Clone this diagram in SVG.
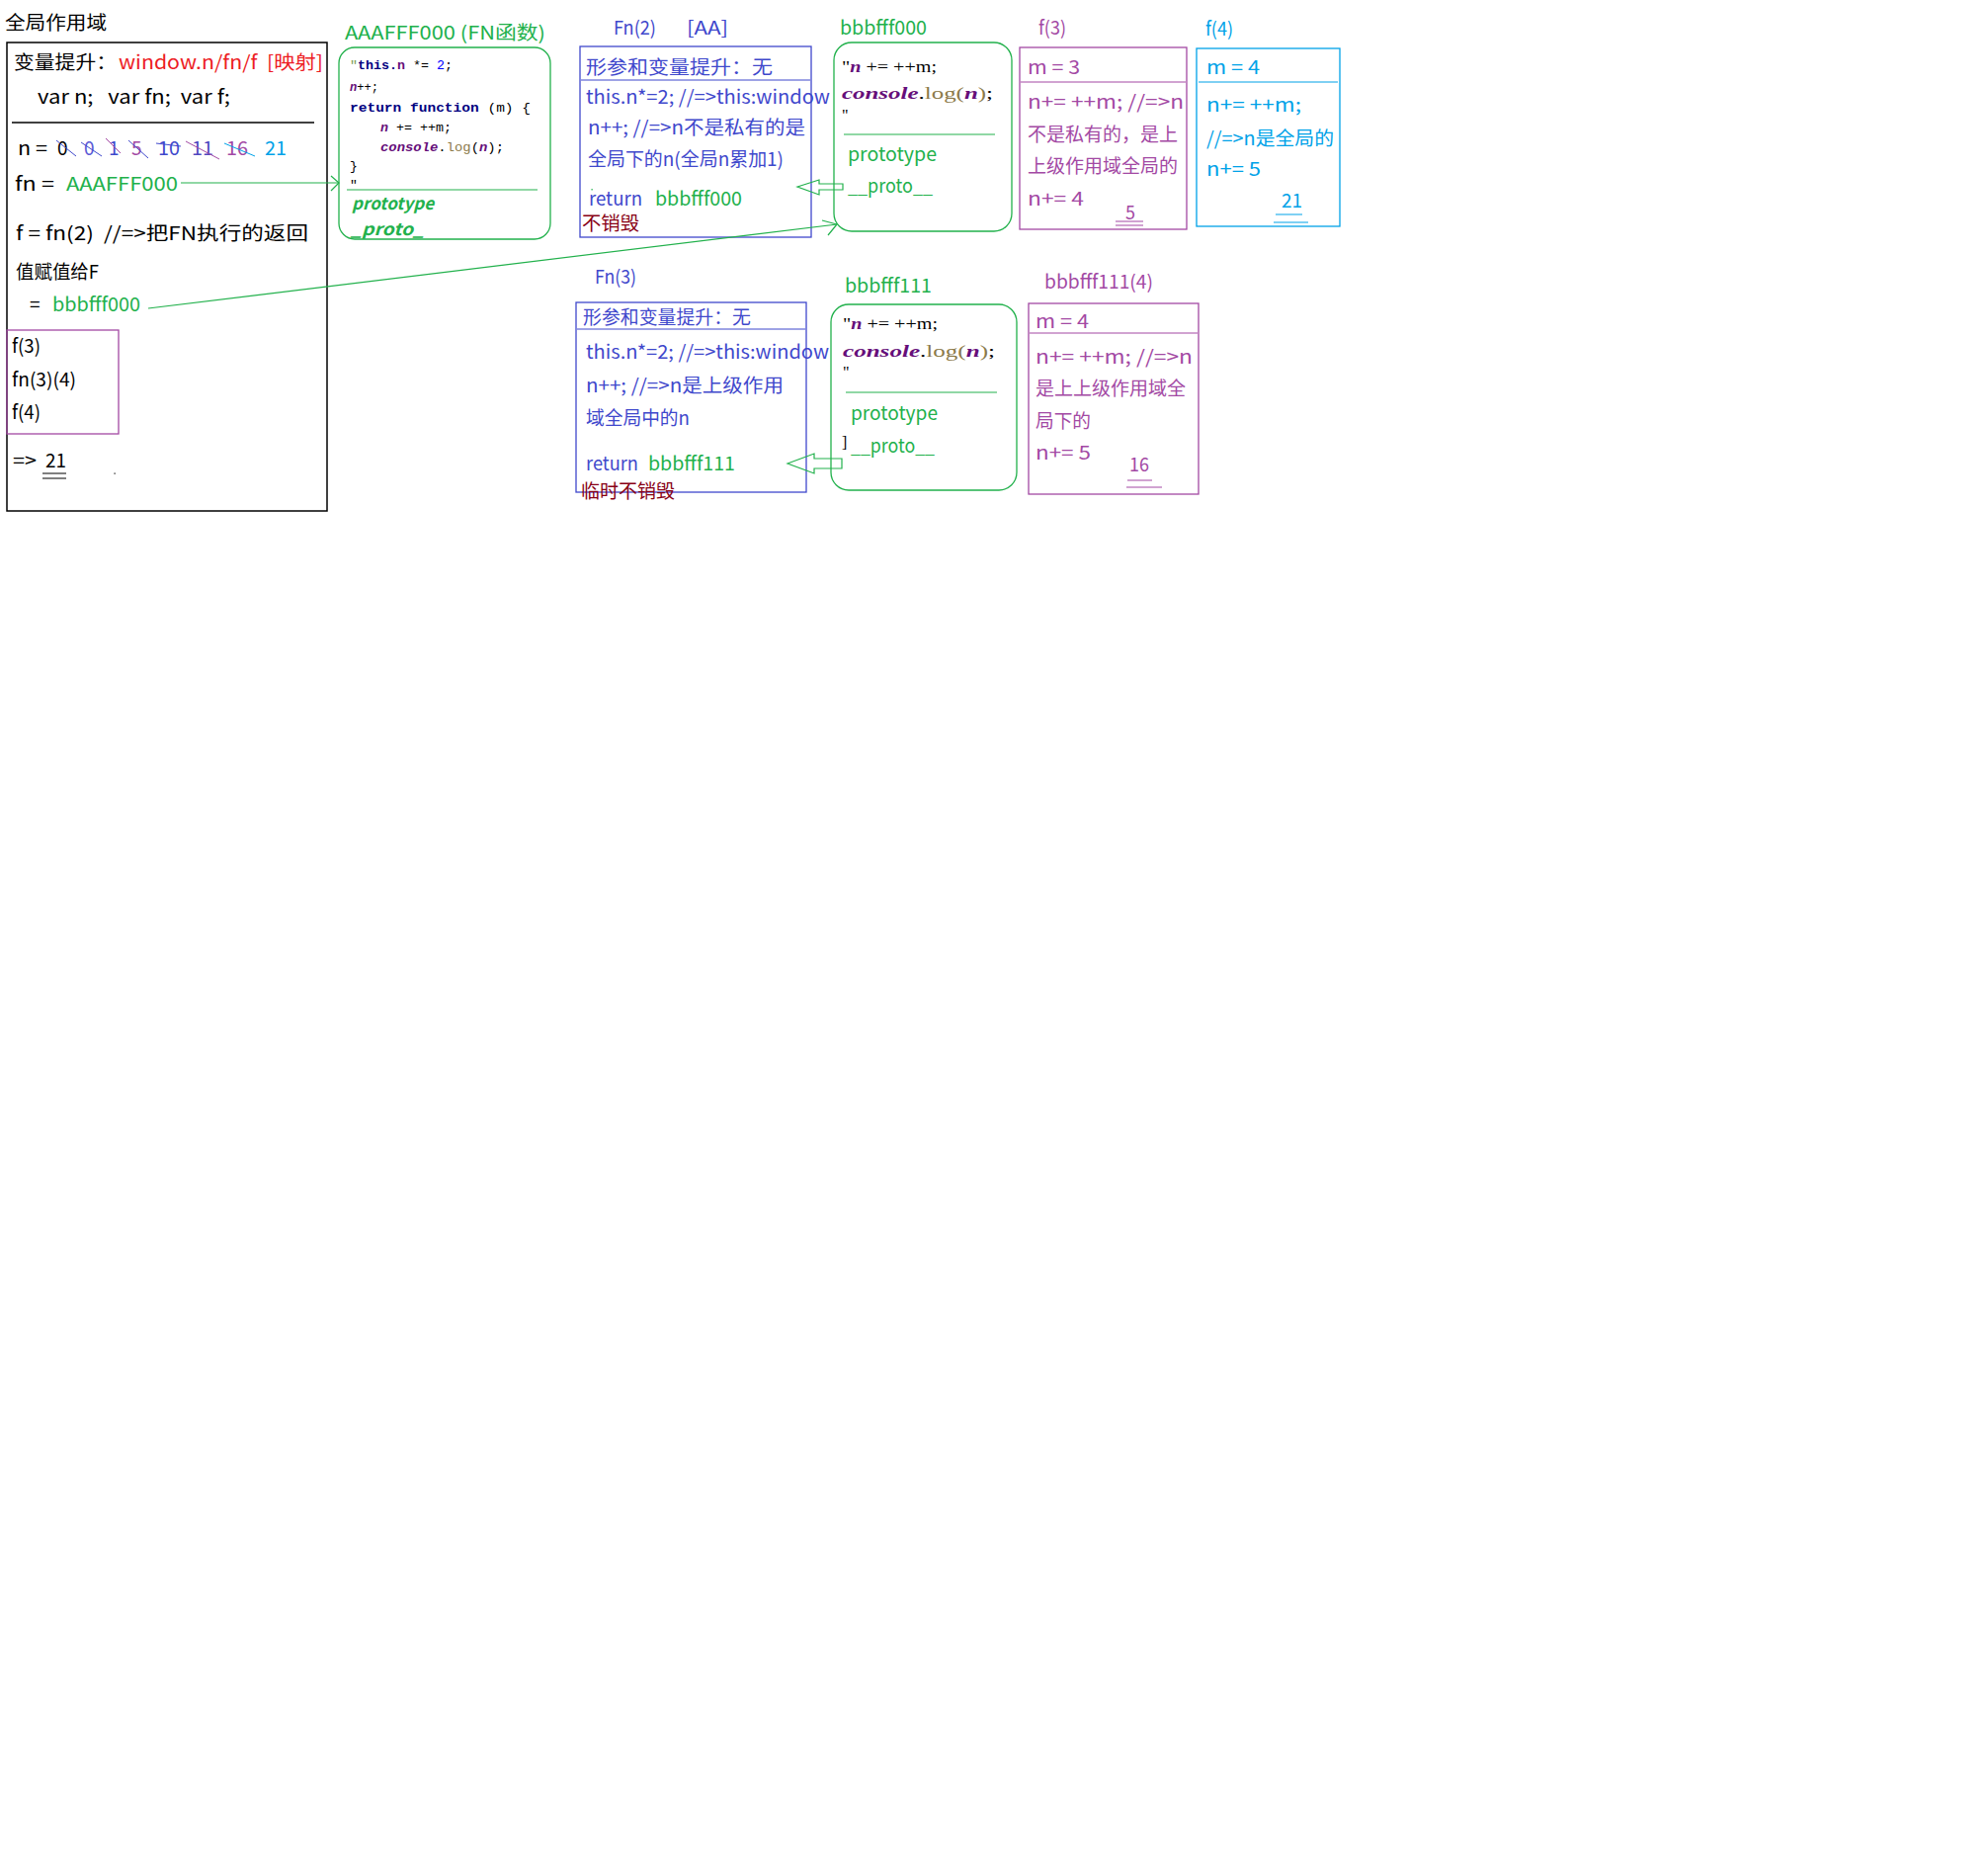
<svg xmlns="http://www.w3.org/2000/svg" width="2012" height="1880" viewBox="0 0 2012 1880">
<style>
.t{font-family:"Noto Sans CJK SC","Noto Sans",sans-serif;font-size:19px;white-space:pre;}
.code{font-family:"Liberation Mono","DejaVu Sans Mono",monospace;font-size:13px;white-space:pre;fill:#000;}
.ser{font-family:"Liberation Serif","DejaVu Serif",serif;font-size:16px;white-space:pre;fill:#000;}
.g{fill:#22b14c;}
.b{fill:#3f48cc;}
.p{fill:#a349a4;}
.c{fill:#00a2e8;}
.r{fill:#ed1c24;}
.dr{fill:#880015;}
.k{fill:#000;}
.kw{fill:#000080;font-weight:bold;}
.v{fill:#660e7a;font-weight:bold;font-style:italic;}
.ol{fill:#8c7a4a;}
.gbox{fill:none;stroke:#22b14c;stroke-width:1.3;}
.bbox{fill:none;stroke:#3f48cc;stroke-width:1.3;}
.pbox{fill:none;stroke:#a349a4;stroke-width:1.3;}
.cbox{fill:none;stroke:#00a2e8;stroke-width:1.3;}
.ln{fill:none;stroke-width:1.2;}
.gi{font-weight:bold;font-style:italic;fill:#22b14c;font-size:17px;}
</style>
<rect width="2012" height="1880" fill="#fff"/>

<g id="global">
<text class="t k" x="5" y="30" font-size="20" textLength="103" lengthAdjust="spacingAndGlyphs">全局作用域</text>
<rect x="7" y="43" width="324" height="474" fill="none" stroke="#000" stroke-width="1.5"/>
<text class="t k" x="14" y="70" font-size="20" textLength="104" lengthAdjust="spacingAndGlyphs">变量提升：</text>
<text class="t r" x="120" y="70" font-size="20" textLength="207" lengthAdjust="spacingAndGlyphs">window.n/fn/f  [映射]</text>
<text class="t k" x="38" y="105" font-size="20" textLength="195" lengthAdjust="spacingAndGlyphs">var n;   var fn;  var f;</text>
<line x1="12" y1="124" x2="318" y2="124" stroke="#000" stroke-width="1.3"/>
<text class="t k" x="18" y="157" textLength="30" lengthAdjust="spacingAndGlyphs">n =</text>
<text class="t k" x="58" y="157">0</text>
<text class="t" x="85" y="157" fill="#5b5bd6">0</text>
<text class="t b" x="110" y="157">1</text>
<text class="t p" x="133" y="157">5</text>
<text class="t b" x="160" y="157" textLength="22" lengthAdjust="spacingAndGlyphs">10</text>
<text class="t" x="194" y="157" fill="#5048c0" textLength="22" lengthAdjust="spacingAndGlyphs">11</text>
<text class="t p" x="229" y="157" textLength="22" lengthAdjust="spacingAndGlyphs">16</text>
<text class="t c" x="268" y="157" textLength="22" lengthAdjust="spacingAndGlyphs">21</text>
<line x1="57" y1="142" x2="77" y2="158" stroke="#3f48cc"/>
<line x1="82" y1="144" x2="103" y2="158" stroke="#3f48cc"/>
<line x1="107" y1="140" x2="122" y2="155" stroke="#a349a4"/>
<line x1="130" y1="142" x2="150" y2="160" stroke="#3f48cc"/>
<line x1="158" y1="145" x2="183" y2="148" stroke="#3f48cc"/>
<line x1="188" y1="143" x2="222" y2="161" stroke="#a349a4"/>
<line x1="227" y1="145" x2="258" y2="158" stroke="#00a2e8"/>
<text class="t k" x="15" y="193" textLength="40" lengthAdjust="spacingAndGlyphs">fn =</text>
<text class="t g" x="67" y="193" font-size="20" textLength="113" lengthAdjust="spacingAndGlyphs">AAAFFF000</text>
<text class="t k" x="16" y="243" textLength="296" lengthAdjust="spacingAndGlyphs">f = fn(2)  //=&gt;把FN执行的返回</text>
<text class="t k" x="16" y="282" textLength="84" lengthAdjust="spacingAndGlyphs">值赋值给F</text>
<text class="t k" x="30" y="315">=</text>
<text class="t g" x="53" y="315" textLength="89" lengthAdjust="spacingAndGlyphs">bbbfff000</text>
<rect x="7" y="334" width="113" height="105" fill="none" stroke="#a349a4" stroke-width="1.3"/>
<text class="t k" x="12" y="357" font-size="17" textLength="29" lengthAdjust="spacingAndGlyphs">f(3)</text>
<text class="t k" x="12" y="391" font-size="17" textLength="65" lengthAdjust="spacingAndGlyphs">fn(3)(4)</text>
<text class="t k" x="12" y="424" font-size="17" textLength="29" lengthAdjust="spacingAndGlyphs">f(4)</text>
<text class="t k" x="13" y="473" font-size="16" textLength="24" lengthAdjust="spacingAndGlyphs">=&gt;</text>
<text class="t k" x="46" y="473" font-size="19" textLength="21" lengthAdjust="spacingAndGlyphs">21</text>
<line x1="43" y1="479" x2="67" y2="479" stroke="#000"/>
<line x1="43" y1="484" x2="67" y2="484" stroke="#000"/>
<rect x="115.5" y="478.5" width="1.2" height="1.2" fill="#000"/>
</g>

<g id="AAAFFF000">
<text class="t g" x="349" y="40" font-size="20" textLength="203" lengthAdjust="spacingAndGlyphs">AAAFFF000 (FN函数)</text>
<rect class="gbox" x="343" y="48" width="214" height="194" rx="16"/>
<text class="code" x="354" y="70" textLength="104" lengthAdjust="spacingAndGlyphs"><tspan fill="#7a9a50">"</tspan><tspan class="kw">this.</tspan><tspan fill="#660e7a" font-weight="bold">n</tspan> *= <tspan fill="#0000ff">2</tspan>;</text>
<text class="code" x="354" y="92" textLength="29" lengthAdjust="spacingAndGlyphs"><tspan class="v">n</tspan>++;</text>
<text class="code" x="354" y="113" textLength="183" lengthAdjust="spacingAndGlyphs"><tspan class="kw">return function</tspan> (m) {</text>
<text class="code" x="385" y="133" textLength="72" lengthAdjust="spacingAndGlyphs"><tspan class="v">n</tspan> += ++m;</text>
<text class="code" x="385" y="153" textLength="125" lengthAdjust="spacingAndGlyphs"><tspan class="v">console</tspan>.<tspan class="ol">log</tspan>(<tspan class="v">n</tspan>);</text>
<text class="code" x="354" y="172">}</text>
<text class="code" x="354" y="191" font-size="10" fill="#7a9a50">"</text>
<line class="ln" x1="351" y1="192" x2="544" y2="192" stroke="#22b14c"/>
<text class="t gi" x="356" y="212" textLength="83" lengthAdjust="spacingAndGlyphs">prototype</text>
<text class="t gi" x="355" y="238" textLength="74" lengthAdjust="spacingAndGlyphs">_proto_</text>
</g>

<g id="Fn2">
<text class="t b" x="621" y="35" font-size="20" textLength="43" lengthAdjust="spacingAndGlyphs">Fn(2)</text>
<text class="t b" x="695" y="35" font-size="20" textLength="42" lengthAdjust="spacingAndGlyphs">[AA]</text>
<rect class="bbox" x="587" y="47" width="234" height="193"/>
<text class="t b" x="593" y="75" textLength="189" lengthAdjust="spacingAndGlyphs">形参和变量提升：无</text>
<line class="ln" x1="588" y1="81" x2="820" y2="81" stroke="#3f48cc"/>
<text class="t b" x="593" y="105" textLength="247" lengthAdjust="spacingAndGlyphs">this.n*=2; //=&gt;this:window</text>
<text class="t b" x="595" y="136" textLength="220" lengthAdjust="spacingAndGlyphs">n++; //=&gt;n不是私有的是</text>
<text class="t b" x="595" y="168" textLength="198" lengthAdjust="spacingAndGlyphs">全局下的n(全局n累加1)</text>
<rect x="598.5" y="191" width="1.2" height="1.5" fill="#22b14c"/>
<text class="t b" x="596" y="208" textLength="54" lengthAdjust="spacingAndGlyphs">return</text>
<text class="t g" x="663" y="208" textLength="88" lengthAdjust="spacingAndGlyphs">bbbfff000</text>
<text class="t dr" x="589" y="233" textLength="58" lengthAdjust="spacingAndGlyphs">不销毁</text>
</g>

<g id="bbbfff000">
<text class="t g" x="850" y="35" textLength="88" lengthAdjust="spacingAndGlyphs">bbbfff000</text>
<rect class="gbox" x="844" y="43" width="180" height="191" rx="18"/>
<text class="ser" x="852" y="73" textLength="96" lengthAdjust="spacingAndGlyphs">"<tspan class="v">n</tspan> += ++m;</text>
<text class="ser" x="852" y="100" font-size="17" textLength="153" lengthAdjust="spacingAndGlyphs"><tspan class="v">console</tspan>.<tspan class="ol">log(</tspan><tspan class="v">n</tspan><tspan class="ol">)</tspan>;</text>
<text class="ser" x="852" y="122" font-size="12" fill="#22b14c">"</text>
<line class="ln" x1="854" y1="136" x2="1007" y2="136" stroke="#22b14c"/>
<text class="t g" x="858" y="163" textLength="90" lengthAdjust="spacingAndGlyphs">prototype</text>
<text class="t g" x="858" y="195" textLength="86" lengthAdjust="spacingAndGlyphs">__proto__</text>
</g>

<g id="f3">
<text class="t p" x="1051" y="35" textLength="28" lengthAdjust="spacingAndGlyphs">f(3)</text>
<rect class="pbox" x="1032" y="48" width="169" height="184"/>
<text class="t p" x="1040" y="75" textLength="53" lengthAdjust="spacingAndGlyphs">m = 3</text>
<line class="ln" x1="1033" y1="83" x2="1200" y2="83" stroke="#a349a4"/>
<text class="t p" x="1040" y="110" textLength="158" lengthAdjust="spacingAndGlyphs">n+= ++m; //=&gt;n</text>
<text class="t p" x="1040" y="143" textLength="152" lengthAdjust="spacingAndGlyphs">不是私有的，是上</text>
<text class="t p" x="1040" y="175" textLength="152" lengthAdjust="spacingAndGlyphs">上级作用域全局的</text>
<text class="t p" x="1040" y="208" textLength="57" lengthAdjust="spacingAndGlyphs">n+= 4</text>
<text class="t p" x="1139" y="222" textLength="10" lengthAdjust="spacingAndGlyphs">5</text>
<line x1="1129" y1="224" x2="1157" y2="224" stroke="#a349a4"/>
<line x1="1129" y1="228" x2="1157" y2="228" stroke="#a349a4"/>
</g>

<g id="f4">
<text class="t c" x="1220" y="36" textLength="28" lengthAdjust="spacingAndGlyphs">f(4)</text>
<rect class="cbox" x="1211" y="49" width="145" height="180"/>
<text class="t c" x="1221" y="75" textLength="54" lengthAdjust="spacingAndGlyphs">m = 4</text>
<line class="ln" x1="1213" y1="83" x2="1354" y2="83" stroke="#00a2e8"/>
<text class="t c" x="1221" y="113" textLength="96" lengthAdjust="spacingAndGlyphs">n+= ++m;</text>
<text class="t c" x="1221" y="147" textLength="129" lengthAdjust="spacingAndGlyphs">//=&gt;n是全局的</text>
<text class="t c" x="1221" y="178" textLength="55" lengthAdjust="spacingAndGlyphs">n+= 5</text>
<text class="t c" x="1297" y="210" textLength="21" lengthAdjust="spacingAndGlyphs">21</text>
<line x1="1291" y1="217" x2="1318" y2="217" stroke="#00a2e8"/>
<line x1="1289" y1="225" x2="1324" y2="225" stroke="#00a2e8"/>
</g>

<g id="Fn3">
<text class="t b" x="602" y="287" textLength="42" lengthAdjust="spacingAndGlyphs">Fn(3)</text>
<rect class="bbox" x="583" y="306" width="233" height="192"/>
<text class="t b" x="590" y="328" textLength="170" lengthAdjust="spacingAndGlyphs">形参和变量提升：无</text>
<line class="ln" x1="584" y1="333" x2="815" y2="333" stroke="#3f48cc"/>
<text class="t b" x="593" y="363" textLength="246" lengthAdjust="spacingAndGlyphs">this.n*=2; //=&gt;this:window</text>
<text class="t b" x="593" y="397" textLength="200" lengthAdjust="spacingAndGlyphs">n++; //=&gt;n是上级作用</text>
<text class="t b" x="593" y="430" textLength="105" lengthAdjust="spacingAndGlyphs">域全局中的n</text>
<text class="t b" x="593" y="476" textLength="53" lengthAdjust="spacingAndGlyphs">return</text>
<text class="t g" x="656" y="476" textLength="88" lengthAdjust="spacingAndGlyphs">bbbfff111</text>
<text class="t dr" x="588" y="504" textLength="95" lengthAdjust="spacingAndGlyphs">临时不销毁</text>
</g>

<g id="bbbfff111">
<text class="t g" x="855" y="296" textLength="88" lengthAdjust="spacingAndGlyphs">bbbfff111</text>
<rect class="gbox" x="841" y="308" width="188" height="188" rx="18"/>
<text class="ser" x="853" y="333" textLength="96" lengthAdjust="spacingAndGlyphs">"<tspan class="v">n</tspan> += ++m;</text>
<text class="ser" x="853" y="361" font-size="17" textLength="154" lengthAdjust="spacingAndGlyphs"><tspan class="v">console</tspan>.<tspan class="ol">log(</tspan><tspan class="v">n</tspan><tspan class="ol">)</tspan>;</text>
<text class="ser" x="853" y="382" font-size="12" fill="#22b14c">"</text>
<line class="ln" x1="856" y1="397" x2="1009" y2="397" stroke="#22b14c"/>
<text class="t g" x="861" y="425" textLength="88" lengthAdjust="spacingAndGlyphs">prototype</text>
<text class="ser" x="852" y="453" font-size="9" fill="#22b14c">]</text>
<text class="t g" x="861" y="458" textLength="85" lengthAdjust="spacingAndGlyphs">__proto__</text>
</g>

<g id="bbbfff111_4">
<text class="t p" x="1057" y="292" textLength="110" lengthAdjust="spacingAndGlyphs">bbbfff111(4)</text>
<rect class="pbox" x="1041" y="307" width="172" height="193"/>
<text class="t p" x="1048" y="332" textLength="54" lengthAdjust="spacingAndGlyphs">m = 4</text>
<line class="ln" x1="1042" y1="337" x2="1212" y2="337" stroke="#a349a4"/>
<text class="t p" x="1048" y="368" textLength="159" lengthAdjust="spacingAndGlyphs">n+= ++m; //=&gt;n</text>
<text class="t p" x="1048" y="400" textLength="152" lengthAdjust="spacingAndGlyphs">是上上级作用域全</text>
<text class="t p" x="1048" y="433" textLength="56" lengthAdjust="spacingAndGlyphs">局下的</text>
<text class="t p" x="1048" y="465" textLength="56" lengthAdjust="spacingAndGlyphs">n+= 5</text>
<text class="t p" x="1143" y="477" textLength="20" lengthAdjust="spacingAndGlyphs">16</text>
<line x1="1141" y1="486" x2="1166" y2="486" stroke="#a349a4"/>
<line x1="1140" y1="493" x2="1176" y2="493" stroke="#a349a4"/>
</g>

<g id="connectors" fill="none" stroke="#22b14c" stroke-width="1.2">
<line x1="183" y1="185" x2="343" y2="185"/>
<polyline points="335,178 343,185 335,193"/>
<line x1="150" y1="312" x2="847" y2="227"/>
<polyline points="832,223 847,227 838,238"/>
<polygon points="807,189 829,182 829,186 853,186 853,192 829,192 829,197"/>
<polygon points="797,469 824,459 824,464 852,464 852,474 824,474 824,479"/>
</g>
</svg>
